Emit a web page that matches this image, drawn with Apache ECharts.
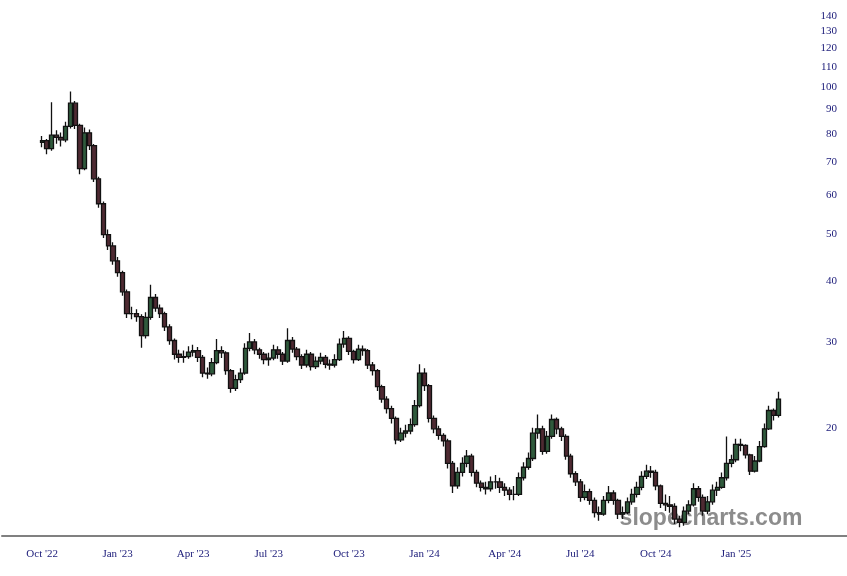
<!DOCTYPE html>
<html><head><meta charset="utf-8">
<script src="https://cdn.jsdelivr.net/npm/echarts@6/dist/echarts.min.js"></script>
<style>html,body{margin:0;padding:0;background:#fff}#c{width:847px;height:576px}</style>
</head><body><div id="c"></div>
<script>
// ---- data (one candle per 4 trading days) ----
const startDate = '2022-10-03';
const stepWeekdays = 4;
const padBefore = 8, padAfter = 14;
const tickMonths = ['2022-10','2023-01','2023-04','2023-07','2023-10','2024-01','2024-04','2024-07','2024-10','2025-01'];
const tickLabels = ["Oct '22","Jan '23","Apr '23","Jul '23","Oct '23","Jan '24","Apr '24","Jul '24","Oct '24","Jan '25"];
const yTickValues = [20,30,40,50,60,70,80,90,100,110,120,130,140];

const opens = [
77.0,77.6,74.7,79.6,78.8,77.9,83.0,92.6,83.4,68.0,
80.5,75.8,64.8,57.6,49.8,47.2,44.0,41.6,38.0,34.3,
34.3,33.8,30.9,33.7,37.0,35.2,34.3,32.2,30.2,28.3,
27.9,28.0,28.6,28.8,27.9,25.9,25.8,27.2,28.8,28.5,
26.2,24.1,25.1,25.9,29.1,30.0,28.9,28.3,27.6,27.8,
28.9,28.3,27.4,30.2,29.0,28.0,26.9,28.3,26.7,27.4,
27.9,27.0,26.9,27.6,29.7,30.5,28.7,27.6,29.0,28.8,
26.9,26.2,24.3,22.9,21.9,20.9,18.9,19.5,19.7,20.3,
22.2,25.9,24.4,20.9,19.9,19.3,18.8,16.9,15.2,16.2,
16.9,17.5,16.2,15.4,15.1,15.0,15.5,15.5,15.1,14.9,
14.6,14.6,15.8,16.6,17.3,19.5,19.9,17.9,19.2,20.8,
19.9,19.2,17.5,16.1,15.5,14.4,14.8,14.2,13.4,13.3,
14.2,14.7,14.2,13.3,13.4,14.1,14.6,15.1,15.9,16.3,
16.2,15.2,14.0,13.9,13.8,13.0,12.8,13.5,13.9,15.0,
14.4,13.5,14.1,14.9,15.1,15.8,16.9,17.2,18.5,18.4,
17.6,16.3,17.1,18.3,19.9,21.7,21.2];
const closes = [
77.6,74.7,79.6,78.8,77.9,83.0,92.6,83.4,68.0,80.5,
75.8,64.8,57.6,49.8,47.2,44.0,41.6,38.0,34.3,34.3,
33.8,30.9,33.7,37.0,35.2,34.3,32.2,30.2,28.3,27.9,
28.0,28.6,28.8,27.9,25.9,25.8,27.2,28.8,28.5,26.2,
24.1,25.1,25.9,29.1,30.0,28.9,28.3,27.6,27.8,28.9,
28.3,27.4,30.2,29.0,28.0,26.9,28.3,26.7,27.4,27.9,
27.0,26.9,27.6,29.7,30.5,28.7,27.6,29.0,28.8,26.9,
26.2,24.3,22.9,21.9,20.9,18.9,19.5,19.7,20.3,22.2,
25.9,24.4,20.9,19.9,19.3,18.8,16.9,15.2,16.2,16.9,
17.5,16.2,15.4,15.1,15.0,15.5,15.5,15.1,14.9,14.6,
14.6,15.8,16.6,17.3,19.5,19.9,17.9,19.2,20.8,19.9,
19.2,17.5,16.1,15.5,14.4,14.8,14.2,13.4,13.3,14.2,
14.7,14.2,13.3,13.4,14.1,14.6,15.1,15.9,16.3,16.2,
15.2,14.0,13.9,13.8,13.0,12.8,13.5,13.9,15.0,14.4,
13.5,14.1,14.9,15.1,15.8,16.9,17.2,18.5,18.4,17.6,
16.3,17.1,18.3,19.9,21.7,21.2,22.9];
const lows = [
75.2,72.8,74.0,76.5,75.5,77.0,82.2,82.0,66.2,67.5,
74.2,63.8,56.5,49.0,46.3,43.2,40.8,37.3,33.6,33.4,
33.0,29.2,30.5,33.3,34.6,33.6,31.6,29.6,27.6,27.2,
27.2,27.7,28.0,27.3,25.4,25.2,25.5,27.0,27.8,25.7,
23.6,23.8,24.7,25.7,28.7,28.3,27.7,27.0,26.8,27.5,
27.7,26.9,27.2,28.5,27.5,26.4,26.6,26.2,26.4,27.0,
26.5,26.3,26.6,27.4,29.2,28.2,27.1,27.4,28.1,26.4,
25.6,23.8,22.5,21.4,20.4,18.5,18.7,19.1,19.4,20.1,
22.0,23.8,20.5,19.5,18.9,18.3,16.5,14.7,15.0,15.9,
16.6,15.9,15.1,14.8,14.6,14.8,15.0,14.7,14.5,14.2,
14.2,14.5,15.6,16.4,17.1,19.0,17.6,17.7,19.0,19.4,
18.8,17.2,15.8,15.2,14.1,14.2,13.9,13.1,12.9,13.2,
14.0,13.9,13.0,13.0,13.3,13.9,14.4,14.9,15.7,15.8,
14.9,13.7,13.5,13.4,12.7,12.5,12.6,13.3,13.8,14.1,
13.2,13.3,13.9,14.5,15.0,15.6,16.6,17.0,17.9,17.3,
16.0,16.2,17.0,18.2,19.8,20.7,21.0];
const highs = [
79.3,78.2,93.0,81.5,80.6,84.8,97.8,93.5,84.0,82.6,
81.8,76.4,65.4,58.2,51.0,48.0,44.8,42.0,38.4,35.4,
35.0,34.2,34.5,39.3,37.6,35.8,34.6,32.6,30.5,28.9,
28.8,29.4,29.6,29.3,28.2,26.6,27.8,30.4,29.4,28.7,
26.4,25.7,26.5,29.8,31.3,30.4,29.2,28.6,28.5,29.6,
29.4,28.6,32.0,30.7,29.3,28.3,28.9,28.6,28.0,28.5,
28.2,27.6,28.3,30.5,31.6,30.8,28.9,29.6,29.5,29.0,
27.3,26.4,24.5,23.2,22.2,21.1,20.0,20.3,20.9,22.8,
27.0,26.5,24.6,21.2,20.2,19.5,19.0,17.1,16.6,17.4,
18.0,17.7,16.4,15.6,15.5,15.9,16.0,15.8,15.4,15.1,
15.2,16.2,17.0,17.8,20.0,21.3,20.2,19.7,21.3,21.0,
20.1,19.4,17.7,16.3,15.7,15.3,15.0,14.4,13.8,14.5,
15.2,14.9,14.3,13.8,14.4,15.0,15.5,16.3,16.8,16.7,
16.4,15.3,14.6,14.5,14.0,13.2,13.8,14.2,15.4,15.2,
14.6,14.5,15.3,15.5,16.2,19.2,17.6,19.0,19.0,18.5,
17.7,17.5,18.8,20.4,22.2,21.9,23.7];

// ---- build categories (trading-day slots) ----
function addWeekdays(d, n) {
  const r = new Date(d.getTime());
  const s = n < 0 ? -1 : 1;
  let k = Math.abs(n);
  while (k > 0) {
    r.setUTCDate(r.getUTCDate() + s);
    const wd = r.getUTCDay();
    if (wd !== 0 && wd !== 6) k--;
  }
  return r;
}
const base = new Date(startDate + 'T00:00:00Z');
const N = closes.length;
const total = padBefore + N + padAfter;
const slotDates = [];
for (let k = 0; k < total; k++) slotDates.push(addWeekdays(base, (k - padBefore) * stepWeekdays));
const categories = slotDates.map(d => d.toISOString().slice(0, 10));

const labelMap = {};
tickMonths.forEach((m, j) => {
  const t = new Date(m + '-01T00:00:00Z').getTime();
  let best = -1, bd = Infinity;
  for (let k = padBefore; k < padBefore + N; k++) {
    const dd = Math.abs(slotDates[k].getTime() - t);
    if (dd < bd) { bd = dd; best = k; }
  }
  labelMap[best] = tickLabels[j];
});

const seriesData = [];
for (let k = 0; k < total; k++) {
  const i = k - padBefore;
  if (i >= 0 && i < N) seriesData.push([opens[i], closes[i], lows[i], highs[i]]);
  else seriesData.push('-');
}

const navy = '#20207c';
const chart = echarts.init(document.getElementById('c'), null, {renderer: 'canvas'});
chart.setOption({
  animation: false,
  backgroundColor: '#ffffff',
  grid: {left: 2, right: 0, top: 1, bottom: 40},
  xAxis: {
    type: 'category',
    data: categories,
    boundaryGap: true,
    axisLine: {show: true, lineStyle: {color: '#808080', width: 2}},
    axisTick: {show: false},
    splitLine: {show: false},
    axisLabel: {
      interval: (idx) => labelMap[idx] !== undefined,
      formatter: (val, idx) => labelMap[idx] || '',
      color: navy, fontFamily: 'Liberation Serif', fontSize: 11, margin: 13
    }
  },
  yAxis: {
    type: 'log', logBase: 10, min: 12, max: 150, position: 'right',
    axisLine: {show: false}, axisTick: {show: false}, splitLine: {show: false},
    axisLabel: {customValues: yTickValues, inside: true, margin: 10,
      color: navy, fontFamily: 'Liberation Serif', fontSize: 11}
  },
  graphic: [{
    type: 'text', x: 711, y: 519, z: -1,
    style: {text: 'slopecharts.com', font: 'bold 23px "Liberation Sans"', fill: '#8c8c8c',
      textAlign: 'center', textVerticalAlign: 'middle'}
  }],
  series: [{
    type: 'candlestick',
    data: seriesData,
    barWidth: '100%',
    itemStyle: {color: '#2f5a3c', color0: '#4e2a32', borderColor: '#111111', borderColor0: '#111111', borderWidth: 1.3}
  }]
});
</script>
</body></html>
